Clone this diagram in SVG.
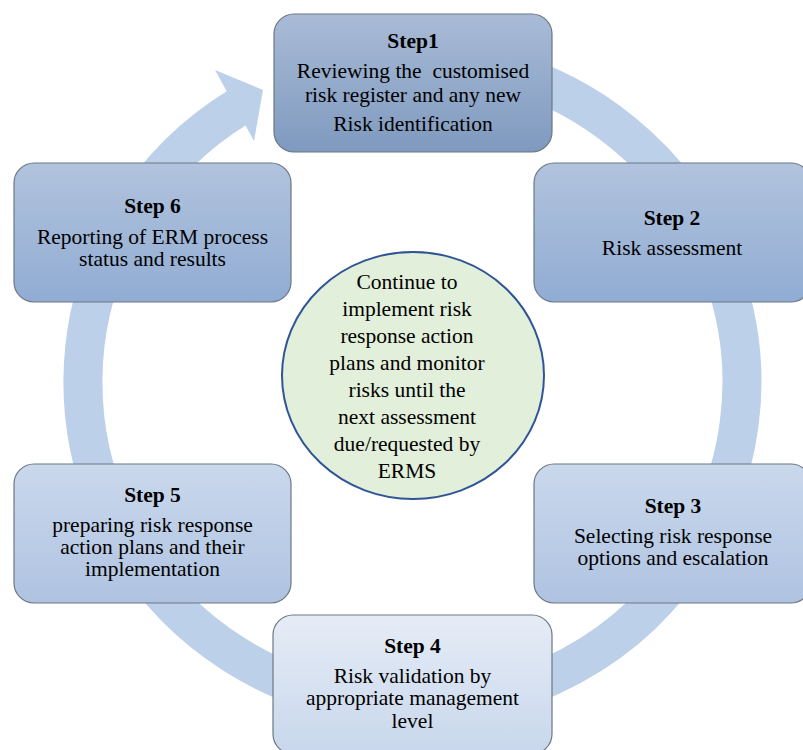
<svg xmlns="http://www.w3.org/2000/svg" width="803" height="750" viewBox="0 0 803 750">
<defs>
<linearGradient id="g1" x1="0" y1="0" x2="0" y2="1"><stop offset="0" stop-color="#a9bbd6"/><stop offset="1" stop-color="#7f9abf"/></linearGradient>
<linearGradient id="g2" x1="0" y1="0" x2="0" y2="1"><stop offset="0" stop-color="#b1c3dd"/><stop offset="1" stop-color="#91acd3"/></linearGradient>
<linearGradient id="g3" x1="0" y1="0" x2="0" y2="1"><stop offset="0" stop-color="#cad8ec"/><stop offset="1" stop-color="#afc3e1"/></linearGradient>
<linearGradient id="g4" x1="0" y1="0" x2="0" y2="1"><stop offset="0" stop-color="#e6ecf6"/><stop offset="1" stop-color="#c8d7ec"/></linearGradient>
</defs>
<style>
.box{stroke:#6b7785;stroke-width:1.2}
text{font-family:"Liberation Serif","Times New Roman",serif;font-size:21.5px;fill:#000;text-anchor:middle}
.h{font-weight:bold}
.ring{fill:none;stroke:#bdd0ea;stroke-width:39}
.arrowhead{fill:#bdd0ea}
</style>
<rect width="803" height="750" fill="#fff"/>
<g id="connectors">
<path class="ring" d="M 310.68 73.86 A 329.5 324 0 1 1 238.9 106.6"/>
<polygon class="arrowhead" points="215,70 263,90 254,141"/>
</g>
<g id="step1">
<rect class="box" x="274" y="14" width="278" height="138" rx="20" fill="url(#g1)"/>
<text class="h" x="413" y="48">Step1</text>
<text x="413" y="78" style="white-space:pre" xml:space="preserve">Reviewing the  customised</text>
<text x="413" y="101.5">risk register and any new</text>
<text x="413" y="131">Risk identification</text>
</g>
<g id="step2">
<rect class="box" x="534" y="163" width="277" height="139" rx="20" fill="url(#g2)"/>
<text class="h" x="672" y="225">Step 2</text>
<text x="672" y="255">Risk assessment</text>
</g>
<g id="step3">
<rect class="box" x="534" y="464" width="277" height="139" rx="20" fill="url(#g3)"/>
<text class="h" x="673" y="513">Step 3</text>
<text x="673" y="543">Selecting risk response</text>
<text x="673" y="565">options and escalation</text>
</g>
<g id="step4">
<rect class="box" x="273" y="615" width="279" height="139" rx="20" fill="url(#g4)"/>
<text class="h" x="412.5" y="653">Step 4</text>
<text x="412.5" y="683">Risk validation by</text>
<text x="412.5" y="705">appropriate management</text>
<text x="412.5" y="728">level</text>
</g>
<g id="step5">
<rect class="box" x="14" y="464" width="277" height="139" rx="20" fill="url(#g3)"/>
<text class="h" x="152.5" y="502">Step 5</text>
<text x="152.5" y="532">preparing risk response</text>
<text x="152.5" y="554">action plans and their</text>
<text x="152.5" y="576">implementation</text>
</g>
<g id="step6">
<rect class="box" x="14" y="163" width="277" height="139" rx="20" fill="url(#g2)"/>
<text class="h" x="152.5" y="213">Step 6</text>
<text x="152.5" y="244">Reporting of ERM process</text>
<text x="152.5" y="266">status and results</text>
</g>
<g id="center">
<ellipse cx="413" cy="375.5" rx="131" ry="123.5" fill="#e2efda" stroke="#2f5597" stroke-width="2"/>
<text x="407" y="289">Continue to</text>
<text x="407" y="315.5">implement risk</text>
<text x="407" y="342.5">response action</text>
<text x="407" y="369.5">plans and monitor</text>
<text x="407" y="396.5">risks until the</text>
<text x="407" y="423.5">next assessment</text>
<text x="407" y="450.5">due/requested by</text>
<text x="407" y="477.5">ERMS</text>
</g>
</svg>
